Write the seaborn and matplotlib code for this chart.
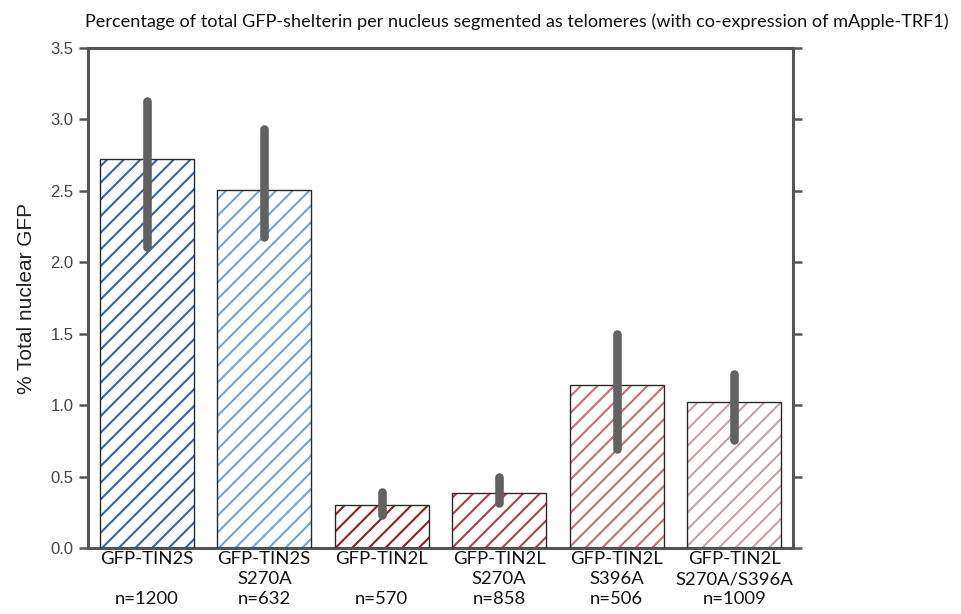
import matplotlib
matplotlib.use("Agg")
import matplotlib.pyplot as plt
import matplotlib.patches as mpatches
import seaborn as sns
import pandas as pd

categories = ["GFP-TIN2S", "GFP-TIN2S\nS270A", "GFP-TIN2L", "GFP-TIN2L\nS270A",
              "GFP-TIN2L\nS396A", "GFP-TIN2L\nS270A/S396A"]
counts = ["n=1200", "n=632", "n=570", "n=858", "n=506", "n=1009"]
means = [2.72, 2.505, 0.30, 0.385, 1.14, 1.025]
err_low = [2.11, 2.18, 0.23, 0.315, 0.69, 0.755]
err_high = [3.13, 2.93, 0.39, 0.50, 1.50, 1.22]
hatch_colors = ["#2c68b0", "#6fa6da", "#9a1b1f", "#b5403f", "#c7706c", "#c9a3a2"]
yticks = [0.0, 0.5, 1.0, 1.5, 2.0, 2.5, 3.0, 3.5]

sns.set_style("white")
plt.rcParams["hatch.linewidth"] = 1.5
plt.rcParams["font.family"] = ["Liberation Sans", "DejaVu Sans"]

labels = []
for c, n in zip(categories, counts):
    if "\n" in c:
        labels.append(c + "\n" + n)
    else:
        labels.append(c + "\n\n" + n)

df = pd.DataFrame({"cat": labels, "val": means})

fig = plt.figure(figsize=(9.61, 6.14), dpi=100)
ax = fig.add_axes([88 / 961, 1 - 548 / 614, (793 - 88) / 961, (548 - 48) / 614])

sns.barplot(data=df, x="cat", y="val", hue="cat", palette=hatch_colors,
            errorbar=None, width=0.8, legend=False, ax=ax)

for patch, col in zip(ax.patches, hatch_colors):
    patch.set_facecolor("white")
    patch.set_edgecolor(col)
    patch.set_hatch("//")
    patch.set_linewidth(0)
    x, y = patch.get_xy()
    outline = mpatches.Rectangle((x, y), patch.get_width(), patch.get_height(),
                                 fill=False, edgecolor="#2a2a2a", linewidth=1.0, zorder=3)
    ax.add_patch(outline)

for i, (lo, hi) in enumerate(zip(err_low, err_high)):
    ax.plot([i, i], [lo, hi], color="#626262", linewidth=6.2,
            solid_capstyle="round", zorder=4)

ax.set_xlim(-0.5, 5.5)
ax.set_ylim(0, 3.5)
ax.set_yticks(yticks)
ax.set_yticklabels([f"{v:.1f}" for v in yticks])
ax.set_xlabel("")
ax.set_ylabel("% Total nuclear GFP", fontsize=15, color="#222222", labelpad=10)

for side in ["left", "right", "top", "bottom"]:
    ax.spines[side].set_visible(True)
    ax.spines[side].set_color("#555555")
    ax.spines[side].set_linewidth(2.2)

ax.tick_params(axis="y", which="both", left=True, right=True, direction="out",
               length=6.5, width=1.8, color="#555555", labelsize=12,
               labelcolor="#444444", pad=4)
ax.tick_params(axis="x", bottom=False, length=0, pad=2)
for lab in ax.get_xticklabels():
    lab.set_fontfamily(["Lato", "DejaVu Sans"])
    lab.set_fontsize(13.3)
    lab.set_linespacing(1.33)
    lab.set_color("#111111")

fig.text(517 / 961, 1 - 22 / 614,
         "Percentage of total GFP-shelterin per nucleus segmented as telomeres (with co-expression of mApple-TRF1)",
         ha="center", va="center", fontsize=13.1, color="#111111",
         family=["Lato", "DejaVu Sans"])

fig.savefig("out.png", dpi=100)
